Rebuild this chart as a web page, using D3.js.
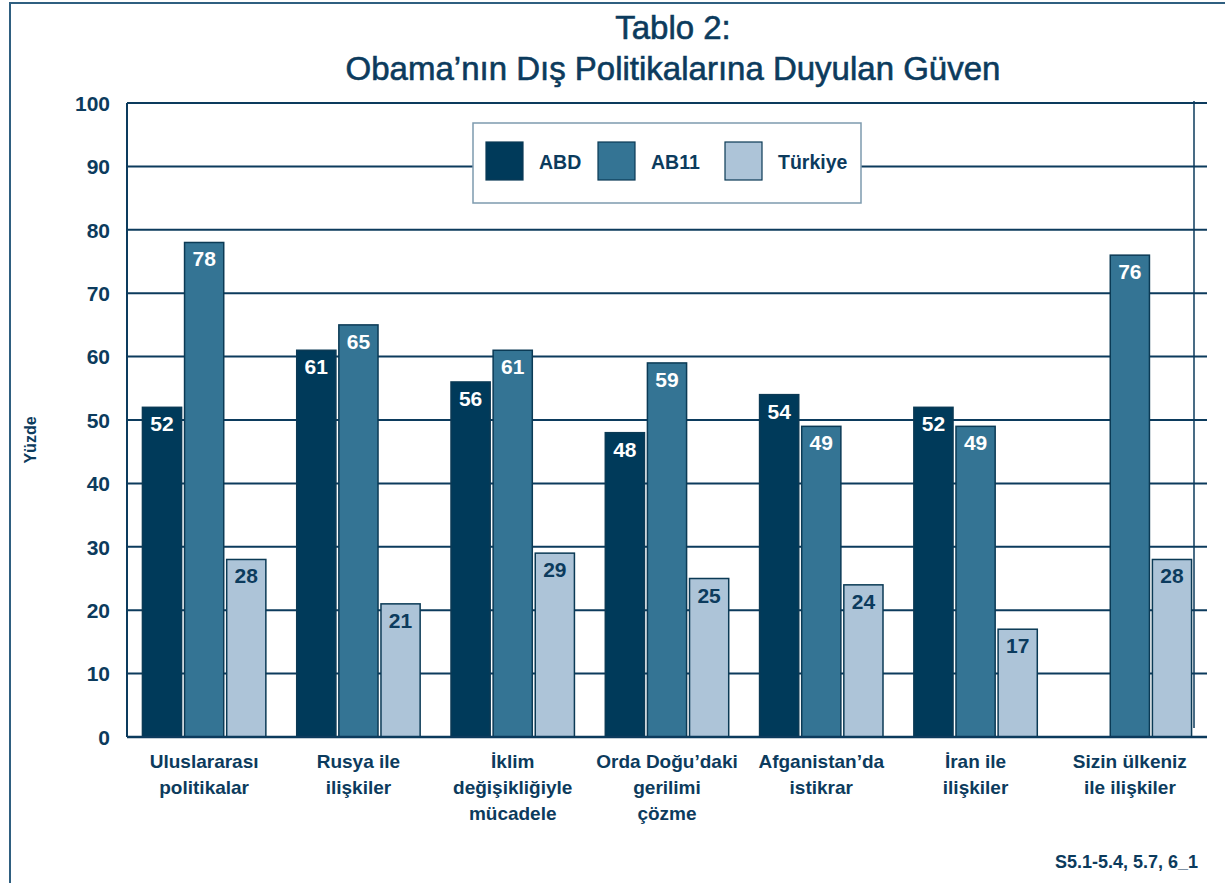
<!DOCTYPE html>
<html><head><meta charset="utf-8">
<script src="https://cdn.jsdelivr.net/npm/d3@7"></script>
<style>html,body{margin:0;padding:0;background:#fff;}svg{display:block;}</style>
</head><body>
<svg id="chart" width="1225" height="883"></svg>
<script>
const categories = [
  ["Uluslararası","politikalar"],
  ["Rusya ile","ilişkiler"],
  ["İklim","değişikliğiyle","mücadele"],
  ["Orda Doğu’daki","gerilimi","çözme"],
  ["Afganistan’da","istikrar"],
  ["İran ile","ilişkiler"],
  ["Sizin ülkeniz","ile ilişkiler"]
];
const seriesNames = ["ABD","AB11","Türkiye"];
const abd = [52, 61, 56, 48, 54, 52, null];
const ab11 = [78, 65, 61, 59, 49, 49, 76];
const turkiye = [28, 21, 29, 25, 24, 17, 28];
const yTicks = [0,10,20,30,40,50,60,70,80,90,100];
const titleLines = ["Tablo 2:", "Obama’nın Dış Politikalarına Duyulan Güven"];
const yTitle = "Yüzde";
const footnote = "S5.1-5.4, 5.7, 6_1";

const seriesValues = [abd, ab11, turkiye];
const colors = ["#003a5a", "#347494", "#adc4d8"];
const labelColors = ["#ffffff", "#ffffff", "#0c3b5d"];
const ink = "#0c3b5d";
const font = "'Liberation Sans', Arial, sans-serif";

const svg = d3.select("#chart");
const pLeft = 127, pRight = 1207, pTop = 103, pBottom = 737;

// outer frame
svg.append("line").attr("x1",9).attr("x2",1225).attr("y1",3).attr("y2",3).attr("stroke","#2f5f80").attr("stroke-width",2);
svg.append("line").attr("x1",10).attr("x2",10).attr("y1",3).attr("y2",883).attr("stroke","#2f5f80").attr("stroke-width",2);

const x0 = d3.scaleBand().domain(d3.range(categories.length)).range([pLeft, pRight]).paddingInner(0.2).paddingOuter(0.1);
const x1 = d3.scaleBand().domain(seriesNames).range([0, x0.bandwidth()]).paddingInner(0.07);
const y = d3.scaleLinear().domain([0,100]).range([pBottom, pTop]);

// gridlines
svg.append("g").selectAll("line").data(yTicks.filter(t=>t>0)).join("line")
  .attr("x1", pLeft).attr("x2", pRight).attr("y1", d=>y(d)).attr("y2", d=>y(d))
  .attr("stroke", ink).attr("stroke-width", 2);

// right vertical line
svg.append("line").attr("x1",1194).attr("x2",1194).attr("y1",y(100)-2).attr("y2",y(0)-9).attr("stroke",ink).attr("stroke-width",1.5);

// y axis
const yAxis = d3.axisLeft(y).tickValues(yTicks).tickSize(0).tickPadding(17).tickFormat(d3.format("d"));
const ga = svg.append("g").attr("transform",`translate(${pLeft},0)`).call(yAxis);
ga.select(".domain").remove();
ga.selectAll("text").attr("fill", ink).attr("font-family", font).attr("font-weight","bold").attr("font-size", 21).attr("dy","0.35em");

// legend
const lg = svg.append("g");
lg.append("rect").attr("x",473).attr("y",123).attr("width",388).attr("height",80).attr("fill","#fff").attr("stroke","#7d9aae").attr("stroke-width",1.5);
const legX = [486, 598, 725];
seriesNames.forEach((s,i)=>{
  lg.append("rect").attr("x",legX[i]).attr("y",142).attr("width",37).attr("height",38).attr("fill",colors[i]).attr("stroke","#0b3a55").attr("stroke-width",1.2);
  lg.append("text").attr("x",legX[i]+53).attr("y",169).text(s).attr("fill",ink).attr("font-family",font).attr("font-weight","bold").attr("font-size",19.5);
});

// bars
const groups = svg.append("g").selectAll("g").data(categories).join("g")
  .attr("transform",(d,i)=>`translate(${x0(i)},0)`);
groups.each(function(cat, ci){
  const g = d3.select(this);
  seriesNames.forEach((s, si)=>{
    const v = seriesValues[si][ci];
    if (v == null) return;
    g.append("rect").attr("x", x1(s)).attr("y", y(v)).attr("width", x1.bandwidth()).attr("height", y(0)-y(v))
      .attr("fill", colors[si]).attr("stroke","#0b3a55").attr("stroke-width",1.5);
    g.append("text").attr("x", x1(s)+x1.bandwidth()/2).attr("y", y(v)+24).attr("text-anchor","middle")
      .text(v).attr("fill", labelColors[si]).attr("font-family",font).attr("font-weight","bold").attr("font-size",21);
  });
});

// axis line and baseline
svg.append("line").attr("x1",pLeft).attr("x2",pLeft).attr("y1",y(100)).attr("y2",y(0)).attr("stroke",ink).attr("stroke-width",2);
svg.append("line").attr("x1",pLeft).attr("x2",pRight).attr("y1",y(0)).attr("y2",y(0)).attr("stroke",ink).attr("stroke-width",2.5);

// category labels
categories.forEach((lines, i)=>{
  const t = svg.append("text").attr("text-anchor","middle").attr("fill",ink).attr("font-family",font).attr("font-weight","bold").attr("font-size",19);
  lines.forEach((l, li)=>{
    t.append("tspan").attr("x", x0(i)+x0.bandwidth()/2).attr("y", 768 + li*26).text(l);
  });
});

// title
titleLines.forEach((l,i)=>{
  svg.append("text").attr("x",673).attr("y", 39 + i*41).attr("text-anchor","middle").text(l)
    .attr("fill",ink).attr("stroke",ink).attr("stroke-width",0.6).attr("font-family",font).attr("font-size",33);
});

// y title
svg.append("text").attr("transform","translate(36,440) rotate(-90)").attr("text-anchor","middle").text(yTitle)
  .attr("fill",ink).attr("font-family",font).attr("font-weight","bold").attr("font-size",16);

// footnote
svg.append("text").attr("x",1198).attr("y",868).attr("text-anchor","end").text(footnote)
  .attr("fill",ink).attr("font-family",font).attr("font-weight","bold").attr("font-size",18);
</script>
</body></html>
